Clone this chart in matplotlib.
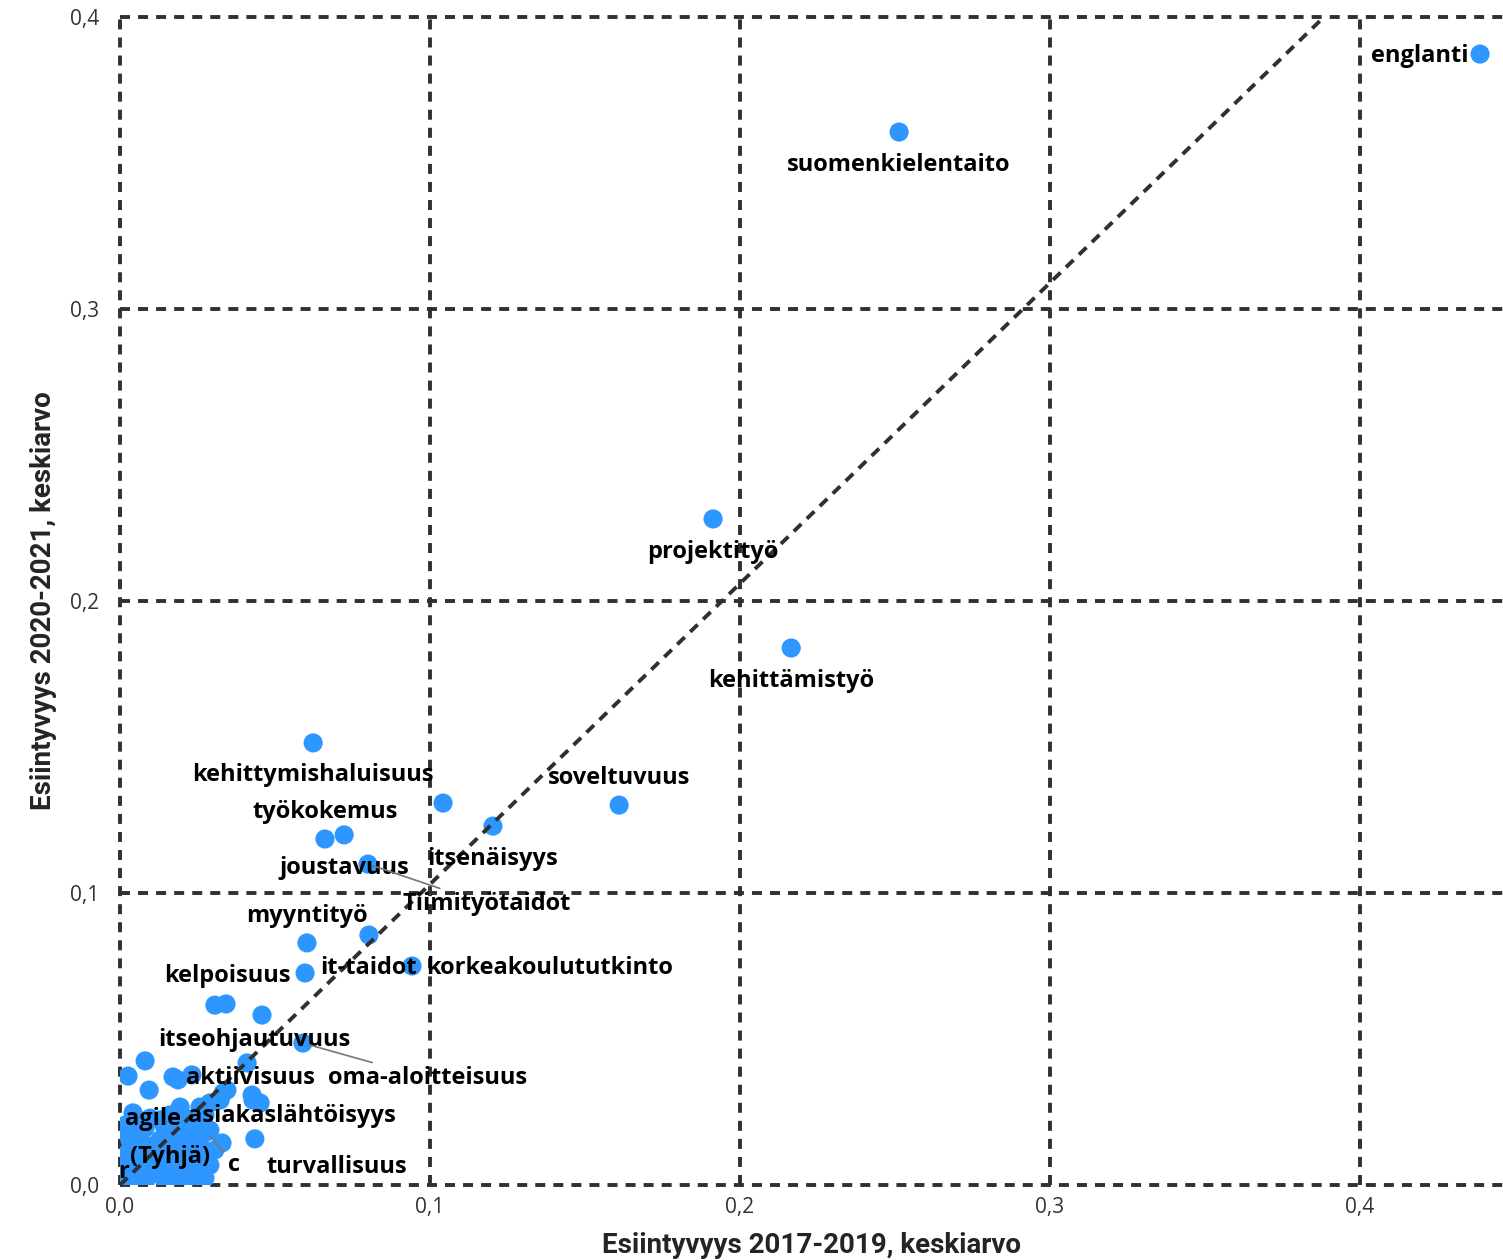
import matplotlib.pyplot as plt

plt.rcParams['lines.scale_dashes'] = False

# labelled skills: 2017-2019 mean vs 2020-2021 mean
names = ["englanti", "suomenkielentaito", "projektityö", "kehittämistyö", "soveltuvuus",
         "kehittymishaluisuus", "itsenäisyys", "työkokemus", "joustavuus", "Tiimityötaidot",
         "myyntityö", "it-taidot", "korkeakoulututkinto", "kelpoisuus", "itseohjautuvuus",
         "oma-aloitteisuus", "aktiivisuus", "asiakaslähtöisyys", "c", "agile", "(Tyhjä)", "r",
         "turvallisuus"]
x_lab = [0.4387, 0.2513, 0.1913, 0.2165, 0.1610, 0.0623, 0.1203, 0.0661, 0.0723, 0.0800,
         0.0603, 0.0803, 0.0942, 0.0597, 0.0410, 0.0590, 0.0429, 0.0329, 0.0281, 0.0081,
         0.0184, 0.0006, 0.0435]
y_lab = [0.3873, 0.3606, 0.2281, 0.1839, 0.1301, 0.1514, 0.1229, 0.1185, 0.1199, 0.1099,
         0.0829, 0.0856, 0.0750, 0.0726, 0.0418, 0.0486, 0.0291, 0.0144, 0.0182, 0.0137,
         0.0010, 0.0007, 0.0158]

# unlabelled skills
x_other = [0.1042, 0.0306, 0.0342, 0.0458, 0.0081, 0.0026, 0.0094, 0.0171, 0.0187, 0.0232,
           0.0332, 0.0345, 0.0426, 0.0452, 0.0042, 0.0194, 0.0258, 0.0290, 0.0323,
           0.0016, 0.0048, 0.0081, 0.0129, 0.0161, 0.0210, 0.0242, 0.0032, 0.0129, 0.0177,
           0.0226, 0.0258, 0.0016, 0.0065, 0.0113, 0.0161, 0.0210, 0.0258, 0.0290, 0.0016,
           0.0048, 0.0097, 0.0145, 0.0194, 0.0242, 0.0081, 0.0026, 0.0129, 0.0177, 0.0306,
           0.0226, 0.0058,
           0.0000, 0.0032, 0.0097, 0.0145, 0.0194, 0.0258, 0.0274, 0.0065, 0.0113, 0.0161,
           0.0210, 0.0242, 0.0048, 0.0097, 0.0145, 0.0194, 0.0242, 0.0274, 0.0000, 0.0032,
           0.0290, 0.0226]
y_other = [0.1308, 0.0616, 0.0620, 0.0582, 0.0425, 0.0373, 0.0325, 0.0370, 0.0360, 0.0377,
           0.0315, 0.0325, 0.0308, 0.0281, 0.0247, 0.0267, 0.0267, 0.0281, 0.0291,
           0.0205, 0.0216, 0.0195, 0.0223, 0.0240, 0.0229, 0.0205, 0.0154, 0.0154, 0.0171,
           0.0154, 0.0137, 0.0103, 0.0086, 0.0103, 0.0086, 0.0092, 0.0086, 0.0068, 0.0051,
           0.0024, 0.0034, 0.0045, 0.0034, 0.0024, 0.0010, 0.0007, 0.0058, 0.0068, 0.0120,
           0.0051, 0.0171,
           0.0188, 0.0195, 0.0229, 0.0195, 0.0205, 0.0223, 0.0240, 0.0120, 0.0137, 0.0120,
           0.0127, 0.0113, 0.0058, 0.0079, 0.0017, 0.0010, 0.0058, 0.0024, 0.0017, 0.0086,
           0.0188, 0.0188]

# label placement (offset in pixels, horizontal alignment, leader line)
lab_dx = [-12, 0, 0, 0, 0, 0, 0, 0, 0, 34, 0, 0, 14, -14, 7, 25, -3, 70, 27, 8, -7, 2, 12]
lab_dy = [-2, -33, -33, -33, 27, -32, -33, 27, -33, -40, 27, -33, -2, -3, 23, -35, 22, 27, -33, 26, 25, 11, -28]
lab_ha = ["right", "center", "center", "center", "center", "center", "center", "center", "center",
          "left", "center", "center", "left", "right", "center", "left", "center", "center",
          "center", "center", "center", "center", "left"]
leader = ["Tiimityötaidot", "oma-aloitteisuus", "c"]

trend_slope = 1.03
trend_icpt = 0.0

ticks = [0.0, 0.1, 0.2, 0.3, 0.4]
tick_labels = ["0,0", "0,1", "0,2", "0,3", "0,4"]

W, H = 1503, 1260
fig = plt.figure(figsize=(W / 100, H / 100), dpi=100)
ax = fig.add_axes([120 / W, 1 - 1185 / H, (W - 120) / W, (1185 - 17) / H])
ax.set_xlim(0, 0.4461)
ax.set_ylim(0, 0.4)

grid_kw = dict(color='#303030', lw=2.8, linestyle=(0, (7.2, 5.8)), zorder=2, clip_on=False)
for t in ticks:
    ax.axvline(t, **grid_kw)
    ax.axhline(t, **grid_kw)

for s in ax.spines.values():
    s.set_visible(False)

ax.set_xticks(ticks)
ax.set_xticklabels(tick_labels)
ax.set_yticks(ticks)
ax.set_yticklabels(tick_labels)
ax.tick_params(length=0, labelsize=15, colors='#333333')
ax.tick_params(axis='x', pad=9)
ax.tick_params(axis='y', pad=15)
for lb in ax.get_xticklabels() + ax.get_yticklabels():
    lb.set_family('Open Sans')

blue = '#2D96FF'
ax.scatter(x_other, y_other, s=190, color=blue, edgecolors='none', zorder=3)
ax.scatter(x_lab, y_lab, s=190, color=blue, edgecolors='none', zorder=3)

x_end = (0.4 - trend_icpt) / trend_slope
ax.plot([0, x_end], [trend_icpt, trend_icpt + trend_slope * x_end], color='#303030',
        lw=2.8, linestyle=(0, (7.5, 5.5)), zorder=4)

for n, x, y, dx, dy, ha in zip(names, x_lab, y_lab, lab_dx, lab_dy, lab_ha):
    arrow = None
    if n in leader:
        arrow = dict(arrowstyle='-', color='#777777', lw=1.2, shrinkA=2, shrinkB=4)
    ax.annotate(n, (x, y), xytext=(dx, dy), textcoords='offset pixels', ha=ha, va='center',
                fontsize=17, fontweight='bold', family='Open Sans', color='black',
                zorder=5, arrowprops=arrow)

ax.set_xlabel("Esiintyvyys 2017-2019, keskiarvo", fontsize=20, fontweight='bold',
              family='Roboto', color='#252423', labelpad=10)
ax.set_ylabel("Esiintyvyys 2020-2021, keskiarvo", fontsize=20, fontweight='bold',
              family='Roboto', color='#252423', labelpad=9)

fig.savefig("out.png", dpi=100)
